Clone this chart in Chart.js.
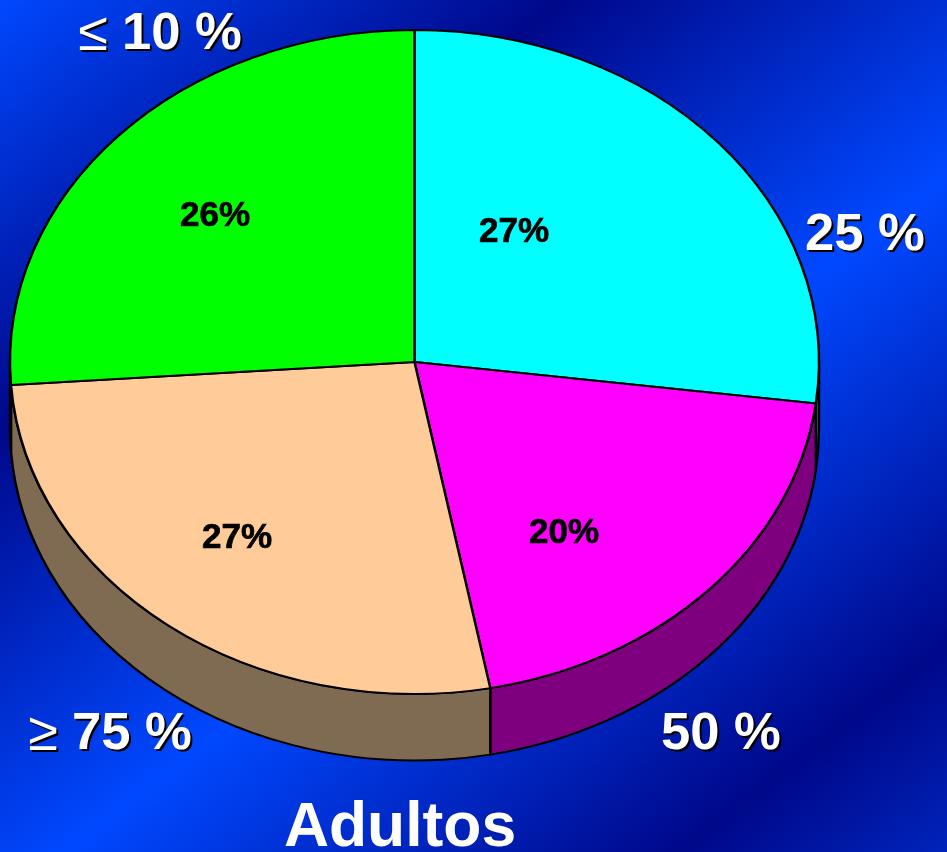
<!DOCTYPE html>
<html>
<head>
<meta charset="utf-8">
<style>
  html, body { margin: 0; padding: 0; width: 947px; height: 852px; overflow: hidden; }
  body { background: linear-gradient(142.6deg, #0048ff 0%, #00088a 27.3%, #0048ff 57.1%, #00088a 87%, #0024bb 100%); }
  canvas { display: block; }
</style>
<script src="https://cdn.jsdelivr.net/npm/chart.js@4"></script>
</head>
<body>
<canvas id="myChart" width="947" height="852"></canvas>
<script>
const categories = ['25 %', '50 %', '75 %', '10 %'];
const shares = [27, 20, 26.9, 26.1];
const topColors = ['#00ffff', '#ff00ff', '#ffcc99', '#00ff00'];
const sideColors = ['#007f7f', '#7f007f', '#7f6a52', '#007f00'];
const chartTitle = 'Adultos';

// pie is drawn round, then stretched sideways to get the tilted look
const stretchX = 404.5 / 332;
const depth = 66.5;

const outerLabels = [
    { prefix: '', text: '25 %', x: 805, y: 250 },
    { prefix: '', text: '50 %', x: 661, y: 749 },
    { prefix: '\u2265', text: '75 %', x: 72, y: 749 },
    { prefix: '\u2264', text: '10 %', x: 122, y: 49 }
];
const innerLabelSpots = [[514, 232], [564, 533], [237, 538], [215, 216]];

const tiltPlugin = {
    id: 'tilt',
    beforeDatasetsDraw(chart) {
        const ctx = chart.ctx;
        const arcs = chart.getDatasetMeta(0).data;
        const cx = arcs[0].x;
        const cy = arcs[0].y;

        ctx.save();
        ctx.translate(cx, cy);
        ctx.scale(stretchX, 1);
        ctx.translate(-cx, -cy);

        // side wall, only the part facing us
        arcs.forEach((arc, i) => {
            const from = Math.max(arc.startAngle, 0);
            const to = Math.min(arc.endAngle, Math.PI);
            if (to <= from) return;
            ctx.beginPath();
            ctx.arc(cx, cy, arc.outerRadius, from, to);
            ctx.arc(cx, cy + depth, arc.outerRadius, to, from, true);
            ctx.closePath();
            ctx.fillStyle = sideColors[i];
            ctx.fill();
            ctx.lineWidth = 2;
            ctx.strokeStyle = '#000';
            ctx.stroke();
        });
    },
    afterDatasetsDraw(chart) {
        chart.ctx.restore();
    }
};

const textPlugin = {
    id: 'texts',
    afterDraw(chart) {
        const ctx = chart.ctx;
        ctx.save();
        ctx.textBaseline = 'alphabetic';
        ctx.textAlign = 'left';

        outerLabels.forEach((label) => {
            ctx.shadowColor = '#000';
            ctx.shadowOffsetX = 2;
            ctx.shadowOffsetY = 2;
            ctx.shadowBlur = 0;
            ctx.fillStyle = '#fff';
            ctx.font = 'bold 52.6px "Liberation Sans"';
            ctx.fillText(label.text, label.x, label.y);
            if (label.prefix) {
                ctx.font = '54px "Liberation Sans"';
                const w = ctx.measureText(label.prefix).width;
                ctx.fillText(label.prefix, label.x - w - 14, label.y + 1);
            }
        });

        ctx.shadowColor = 'transparent';
        ctx.fillStyle = '#000';
        ctx.strokeStyle = '#000';
        ctx.lineWidth = 0.7;
        ctx.textAlign = 'center';
        ctx.textBaseline = 'middle';
        ctx.font = 'bold 35px "Liberation Sans"';
        shares.forEach((share, i) => {
            const spot = innerLabelSpots[i];
            const text = Math.round(share) + '%';
            ctx.fillText(text, spot[0], spot[1]);
            ctx.strokeText(text, spot[0], spot[1]);
        });

        ctx.fillStyle = '#fff';
        ctx.textBaseline = 'alphabetic';
        ctx.font = 'bold 62.4px "Liberation Sans"';
        ctx.fillText(chartTitle, 400, 846);
        ctx.restore();
    }
};

new Chart(document.getElementById('myChart'), {
    type: 'pie',
    data: {
        labels: categories,
        datasets: [{
            data: shares,
            backgroundColor: topColors,
            borderColor: '#000',
            borderWidth: 2,
            clip: false
        }]
    },
    options: {
        responsive: false,
        animation: false,
        layout: { padding: { left: 81.5, right: 199.5, top: 29, bottom: 157 } },
        plugins: { legend: { display: false }, tooltip: { enabled: false } }
    },
    plugins: [tiltPlugin, textPlugin]
});
</script>
</body>
</html>
